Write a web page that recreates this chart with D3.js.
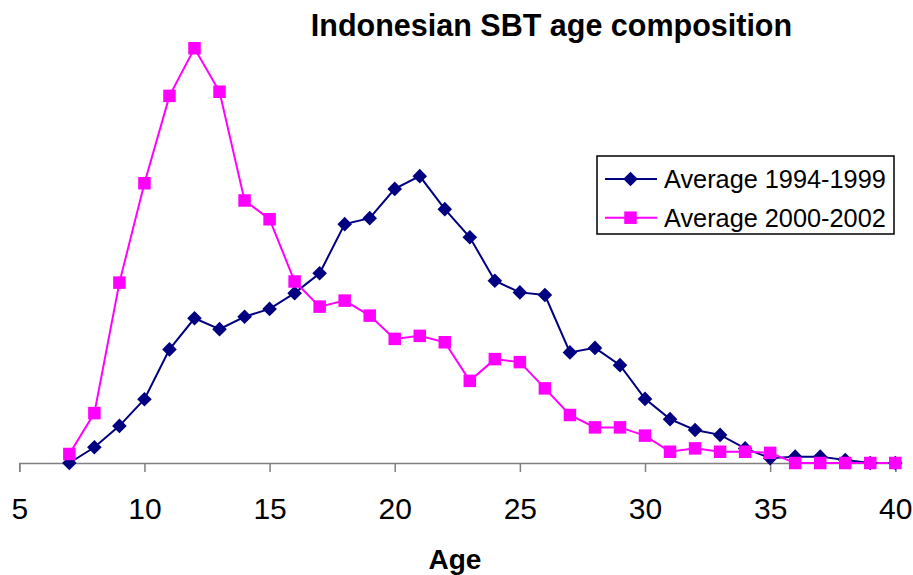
<!DOCTYPE html>
<html>
<head>
<meta charset="utf-8">
<script src="https://cdn.jsdelivr.net/npm/d3@7"></script>
<style>
  html, body { margin: 0; padding: 0; background: #fff; }
  svg { display: block; font-family: "Liberation Sans", Arial, sans-serif; }
</style>
</head>
<body>
<svg id="chart" width="913" height="575"></svg>
<script>
const title = "Indonesian SBT age composition";
const xAxisTitle = "Age";
const ages = [7,8,9,10,11,12,13,14,15,16,17,18,19,20,21,22,23,24,25,26,27,28,29,30,31,32,33,34,35,36,37,38,39,40];
const seriesNames = ["Average 1994-1999", "Average 2000-2002"];
const avg1994_1999 = [0,0.42,0.99,1.70,3.03,3.86,3.57,3.90,4.11,4.53,5.06,6.37,6.53,7.31,7.65,6.77,6.02,4.86,4.55,4.48,2.95,3.07,2.61,1.71,1.17,0.88,0.75,0.39,0.13,0.17,0.17,0.08,0,0];
const avg2000_2002 = [0.24,1.33,4.81,7.46,9.79,11.06,9.90,7.00,6.50,4.84,4.17,4.33,3.93,3.31,3.39,3.22,2.19,2.77,2.69,1.99,1.28,0.95,0.95,0.73,0.30,0.39,0.30,0.30,0.27,0,0,0,0,0];
const xTicks = [5,10,15,20,25,30,35,40];

const svg = d3.select("#chart");
const x = d3.scaleLinear().domain([5, 40]).range([19.3, 895.3]);
const y = d3.scaleLinear().domain([0, 12]).range([463, 13]);

// title
svg.append("text").attr("x", 551.5).attr("y", 36).attr("text-anchor", "middle")
  .style("font-size", "30.5px").style("font-weight", "bold").text(title);

// x axis
const ax = svg.append("g").attr("transform", "translate(0,463)")
  .call(d3.axisBottom(x).tickValues(xTicks).tickSize(9).tickPadding(26).tickFormat(d3.format("d")));
ax.select(".domain").attr("stroke", "#808080").attr("stroke-width", 1.5);
ax.selectAll(".tick line").attr("stroke", "#808080").attr("stroke-width", 1.5);
ax.selectAll(".tick text").attr("fill", "#000").style("font-size", "30px")
  .style("font-family", "'Liberation Sans', Arial, sans-serif");

svg.append("text").attr("x", 455).attr("y", 569).attr("text-anchor", "middle")
  .style("font-size", "28px").style("font-weight", "bold").text(xAxisTitle);

const series = [
  {name: seriesNames[0], values: avg1994_1999, color: "#000080", shape: "diamond"},
  {name: seriesNames[1], values: avg2000_2002, color: "#FF00FF", shape: "square"}
];

const line = d3.line().x((d, i) => x(ages[i])).y(d => y(d));

function marker(g, shape, color, cx, cy) {
  if (shape === "diamond") {
    const r = 7.3;
    g.append("path").attr("d", `M${cx},${cy - r}L${cx + r},${cy}L${cx},${cy + r}L${cx - r},${cy}Z`)
      .attr("fill", color);
  } else {
    const s = 12.5;
    g.append("rect").attr("x", cx - s / 2).attr("y", cy - s / 2).attr("width", s).attr("height", s)
      .attr("fill", color);
  }
}

series.forEach(s => {
  svg.append("path").datum(s.values).attr("d", line)
    .attr("fill", "none").attr("stroke", s.color).attr("stroke-width", 2);
});
series.forEach(s => {
  const g = svg.append("g");
  s.values.forEach((v, i) => marker(g, s.shape, s.color, x(ages[i]), y(v)));
});

// legend
const lg = svg.append("g");
lg.append("rect").attr("x", 597).attr("y", 156).attr("width", 297).attr("height", 78)
  .attr("fill", "#fff").attr("stroke", "#000").attr("stroke-width", 1.5);
series.forEach((s, i) => {
  const cy = 179 + i * 38.7;
  lg.append("line").attr("x1", 605).attr("x2", 657).attr("y1", cy).attr("y2", cy)
    .attr("stroke", s.color).attr("stroke-width", 2);
  marker(lg, s.shape, s.color, 630.5, cy);
  lg.append("text").attr("x", 664).attr("y", cy + 9).style("font-size", "25.3px").text(s.name);
});
</script>
</body>
</html>
